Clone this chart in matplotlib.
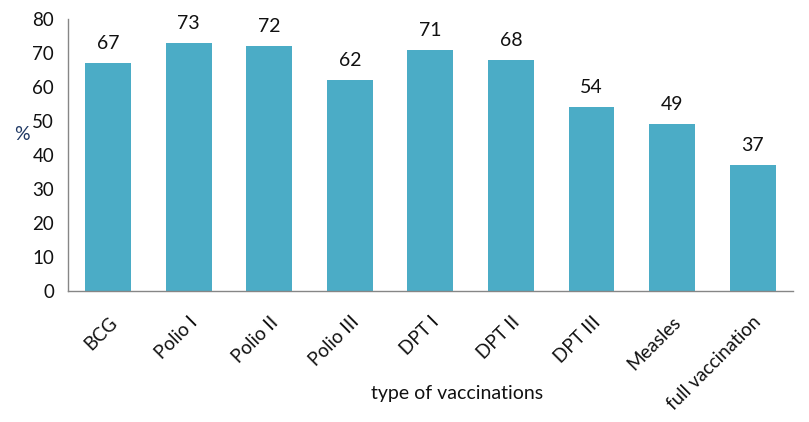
import numpy as np
import matplotlib.pyplot as plt

plt.rcParams['font.family'] = ['Lato', 'DejaVu Sans']

categories = ["BCG", "Polio I", "Polio II", "Polio III", "DPT I", "DPT II",
              "DPT III", "Measles", "full vaccination"]
values = [67, 73, 72, 62, 71, 68, 54, 49, 37]

fig = plt.figure(figsize=(8.09, 4.22), dpi=100)
ax = fig.add_axes([0.084, 0.310, 0.896, 0.645])

x = np.arange(len(categories))
bars = ax.bar(x, values, width=0.57, color="#4BACC6")

for xi, v in zip(x, values):
    ax.annotate(str(v), (xi, v), xytext=(0, 8), textcoords="offset points",
                ha="center", va="bottom", fontsize=14, color="#111111")

ax.set_xlim(-0.5, len(categories) - 0.5)
ax.set_ylim(0, 80)
ax.set_yticks(range(0, 81, 10))
ax.set_xticks(x)
ax.set_xticklabels(categories, rotation=45, ha="right", va="top",
                   rotation_mode="anchor", fontsize=13.5)
ax.tick_params(axis="both", length=0, labelsize=13.5, colors="#111111")
ax.tick_params(axis="x", pad=16)
ax.tick_params(axis="y", pad=10)

for s in ["top", "right"]:
    ax.spines[s].set_visible(False)
for s in ["left", "bottom"]:
    ax.spines[s].set_color("#868686")
    ax.spines[s].set_linewidth(1.0)

fig.text(14 / 809, 1 - 135 / 422, "%", fontsize=14, color="#1F3864",
         ha="left", va="center")
fig.text(457 / 809, 1 - 393 / 422, "type of vaccinations", fontsize=14,
         ha="center", va="center", color="#111111")

plt.savefig("out.png", dpi=100)
